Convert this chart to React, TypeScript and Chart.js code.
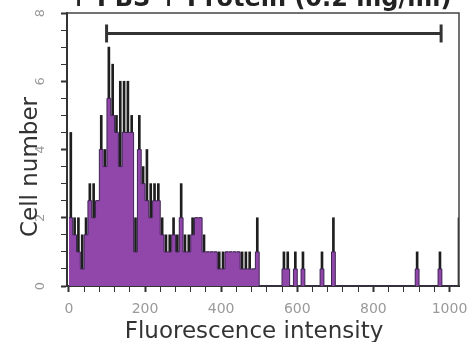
import React, { useEffect, useRef } from 'react';
import { Chart, registerables } from 'chart.js';

Chart.register(...registerables);

// ---- data ----
const binWidth = 10; // fluorescence units per histogram channel
const fillCounts = [
  2, 1.5, 1, 0.5, 1.5, 2.5, 2, 2.5, 4, 3.5,
  5.5, 5, 4.5, 3.5, 4.5, 4.5, 4.5, 1, 4, 3,
  2.5, 2, 2.5, 2.5, 1.5, 1, 1, 1.5, 1, 2,
  1, 1, 1.5, 2, 2, 1, 1, 1, 1, 0.5,
  0.5, 1, 1, 1, 1, 0.5, 0.5, 0.5, 0.5, 1,
  0, 0, 0, 0, 0, 0, 0.5, 0.5, 0, 0.5,
  0, 0.5, 0, 0, 0, 0, 0.5, 0, 0, 1,
  0, 0, 0, 0, 0, 0, 0, 0, 0, 0,
  0, 0, 0, 0, 0, 0, 0, 0, 0, 0,
  0, 0.5, 0, 0, 0, 0, 0, 0.5, 0, 0,
  0, 0, 0,
];
const peakCounts = [
  4.5, 2, 2, 1.5, 2, 3, 3, 2.5, 5, 4,
  7, 6.5, 5, 6, 6, 6, 5, 2, 5, 3.5,
  4, 3, 3, 3, 2, 1.5, 1.5, 2, 1.5, 3,
  1.5, 1.5, 2, 2, 2, 1.5, 1, 1, 1, 1,
  1, 1, 1, 1, 1, 1, 1, 1, 0.5, 2,
  0, 0, 0, 0, 0, 0, 1, 1, 0, 1,
  0, 1, 0, 0, 0, 0, 1, 0, 0, 2,
  0, 0, 0, 0, 0, 0, 0, 0, 0, 0,
  0, 0, 0, 0, 0, 0, 0, 0, 0, 0,
  0, 1, 0, 0, 0, 0, 0, 1, 0, 0,
  0, 0, 2,
];
const xTickValues = [0, 40, 80, 120, 160, 200, 240, 280, 320, 360, 400, 440, 480, 520, 560, 600, 640, 680, 720, 760, 800, 840, 880, 920, 960, 1000];
const xTickLabels = [0, 200, 400, 600, 800, 1000];
const yTickValues = [0, 0.5, 1, 1.5, 2, 2.5, 3, 3.5, 4, 4.5, 5, 5.5, 6, 6.5, 7, 7.5, 8];
const yTickLabels = [0, 2, 4, 6, 8];
const gateRange = [99, 978];
const gateLevel = 7.4;
const titleText = '+ PBS + Protein (0.2 mg/ml)';
const xTitleText = 'Fluorescence intensity';
const yTitleText = 'Cell number';

const FONT = '"DejaVu Sans", sans-serif';

const decorPlugin = {
  id: 'decor',
  afterDraw(chart: any) {
    const { ctx, chartArea: a } = chart;
    ctx.save();
    // top/right frame
    ctx.strokeStyle = '#444';
    ctx.lineWidth = 1.5;
    ctx.beginPath();
    ctx.moveTo(a.left, a.top);
    ctx.lineTo(a.right, a.top);
    ctx.lineTo(a.right, a.bottom);
    ctx.stroke();
    // main title (partly cut off at the top)
    ctx.fillStyle = '#222';
    ctx.font = `bold 24px ${FONT}`;
    ctx.textAlign = 'center';
    ctx.textBaseline = 'alphabetic';
    ctx.fillText(titleText, 260, 6);
    // x title
    ctx.fillStyle = '#333';
    ctx.font = `23px ${FONT}`;
    ctx.fillText(xTitleText, 254, 338);
    // y title
    ctx.translate(37, 167);
    ctx.rotate(-Math.PI / 2);
    ctx.fillText(yTitleText, 0, 0);
    ctx.restore();
  },
};

export default function App() {
  const ref = useRef<HTMLCanvasElement | null>(null);

  useEffect(() => {
    if (!ref.current) return;
    const fillData = fillCounts.map((c, i) => ({ x: i * binWidth, y: c }));
    fillData.push({ x: fillCounts.length * binWidth, y: fillCounts[fillCounts.length - 1] });
    const peakData = peakCounts
      .map((c, i) => ({ x: i * binWidth + binWidth / 2, y: c }))
      .filter((p) => p.y > 0);

    const chart = new Chart(ref.current, {
      type: 'line',
      data: {
        datasets: [
          {
            type: 'line',
            label: 'gate',
            data: [
              { x: gateRange[0], y: gateLevel },
              { x: gateRange[1], y: gateLevel },
            ],
            borderColor: '#333',
            borderWidth: 3,
            pointStyle: 'line',
            rotation: 90,
            pointRadius: 9,
            pointBorderWidth: 3,
            pointBorderColor: '#333',
            pointBackgroundColor: '#333',
            order: 0,
          } as any,
          {
            type: 'line',
            label: 'histogram',
            data: fillData,
            stepped: true,
            fill: 'origin',
            backgroundColor: '#9147a9',
            borderColor: '#3f2456',
            borderWidth: 1,
            pointRadius: 0,
            order: 1,
          } as any,
          {
            type: 'bar',
            label: 'peaks',
            data: peakData,
            backgroundColor: '#1e1e1e',
            barThickness: 2,
            order: 2,
          } as any,
        ],
      },
      options: {
        responsive: false,
        devicePixelRatio: 1,
        animation: false,
        layout: { padding: { top: 13, right: 10, left: 0, bottom: 0 } },
        plugins: {
          legend: { display: false },
          tooltip: { enabled: false },
          title: { display: false },
        },
        scales: {
          x: {
            type: 'linear',
            min: -5,
            max: 1025,
            offset: false,
            afterBuildTicks: (s: any) => {
              s.ticks = xTickValues.map((v) => ({ value: v }));
            },
            afterFit: (s: any) => {
              s.height = 56;
              s.paddingLeft = 0;
              s.paddingRight = 0;
            },
            grid: {
              offset: false,
              drawOnChartArea: false,
              drawTicks: true,
              tickLength: 6,
              tickColor: '#333',
              tickWidth: (c: any) => (c.tick && xTickLabels.includes(c.tick.value) ? 2 : 1),
            },
            border: { display: true, color: '#333', width: 2 },
            ticks: {
              autoSkip: false,
              minRotation: 0,
              maxRotation: 0,
              color: '#9a9a9a',
              padding: 9,
              font: { family: FONT, size: 14 },
              callback: (v: any) => (xTickLabels.includes(Number(v)) ? String(v) : ''),
            },
          },
          y: {
            type: 'linear',
            min: 0,
            max: 8,
            afterBuildTicks: (s: any) => {
              s.ticks = yTickValues.map((v) => ({ value: v }));
            },
            afterFit: (s: any) => {
              s.width = 67;
              s.paddingTop = 0;
              s.paddingBottom = 0;
            },
            grid: {
              drawOnChartArea: false,
              drawTicks: true,
              tickLength: 6,
              tickColor: '#333',
              tickWidth: (c: any) => (c.tick && yTickLabels.includes(c.tick.value) ? 2 : 1),
            },
            border: { display: true, color: '#333', width: 2 },
            ticks: {
              autoSkip: false,
              minRotation: 90,
              maxRotation: 90,
              crossAlign: 'center',
              padding: 16,
              color: '#9a9a9a',
              font: { family: FONT, size: 13 },
              callback: (v: any) => (yTickLabels.includes(Number(v)) ? String(v) : ''),
            },
          },
        },
      } as any,
      plugins: [decorPlugin],
    });
    return () => chart.destroy();
  }, []);

  return (
    <div style={{ position: 'fixed', left: 0, top: 0, width: 471, height: 342, background: '#fff' }}>
      <canvas ref={ref} width={471} height={342} style={{ display: 'block', width: 471, height: 342 }} />
    </div>
  );
}
